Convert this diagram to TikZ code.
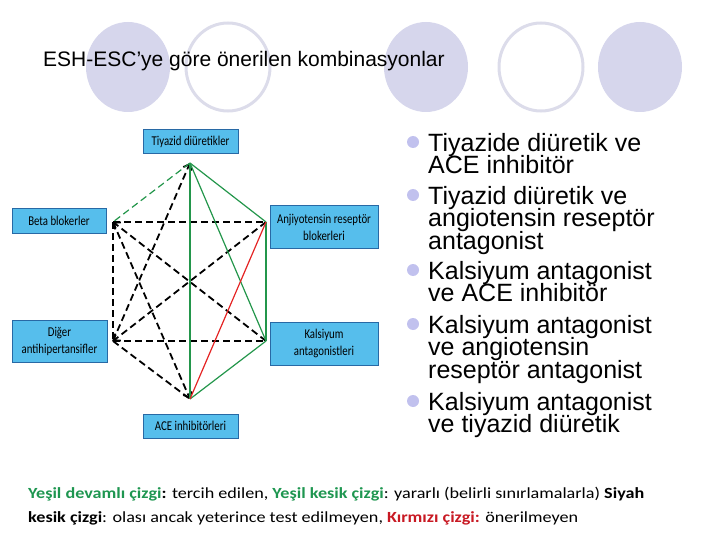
\documentclass[tikz,border=0pt]{standalone}
\usepackage{fontspec}
\setmainfont{Liberation Sans}
\newfontfamily\boxfont[FakeStretch=0.8]{Carlito}
\newfontfamily\legfont[FakeStretch=1.17]{Carlito}
\usetikzlibrary{arrows.meta}

\definecolor{boxblue}{RGB}{86,190,236}
\definecolor{boxline}{RGB}{40,105,165}
\definecolor{lgreen}{RGB}{35,150,75}
\definecolor{lred}{RGB}{228,35,35}
\definecolor{lavender}{RGB}{214,214,236}
\definecolor{ringgray}{RGB}{220,220,234}
\definecolor{txtgreen}{RGB}{30,150,80}
\definecolor{txtred}{RGB}{200,25,35}

\newcommand{\combfont}{\fontsize{25}{22.5}\selectfont\lineskiplimit=-100pt\relax}

\begin{document}
\begin{tikzpicture}[x=1pt, y=-1pt, node distance=1cm, auto, >={Straight Barb[length=5pt, width=9pt]}]
        \tikzstyle{drug}=[draw=boxline, line width=1pt, fill=boxblue, rectangle, inner sep=1pt, align=center, font=\boxfont\fontsize{13.5}{17}\selectfont];
        \tikzstyle{blk}=[black, line width=1.8pt, dash pattern=on 7pt off 4pt];
        \tikzstyle{grn}=[lgreen, line width=1.2pt];
        \tikzstyle{item}=[anchor=north west, inner sep=0pt, align=left, font=\combfont];
        \tikzstyle{dot}=[circle, fill=lavender!90!blue, minimum size=12pt, inner sep=0pt];
        \tikzstyle{legend}=[anchor=base west, inner sep=0pt, font=\legfont\fontsize{15.5}{18}\selectfont];

        \useasboundingbox (0,0) rectangle (720,540);

        % ovals behind the title
        \fill[lavender] (128,67) ellipse [x radius=42, y radius=45];
        \draw[ringgray, line width=3pt] (228,67) ellipse [x radius=42, y radius=44];
        \fill[lavender] (426,67) ellipse [x radius=42, y radius=45];
        \draw[ringgray, line width=3pt] (541,67) ellipse [x radius=42, y radius=44];
        \fill[lavender] (640,67) ellipse [x radius=42, y radius=45];

        \node[anchor=base west, inner sep=0pt, font=\fontsize{21}{25}\selectfont] (title) at (43,67) {ESH-ESC’ye göre önerilen kombinasyonlar};

        % drug classes
        \node[drug, minimum width=95pt, minimum height=24pt] (tiy) at (190.5,142) {Tiyazid diüretikler};
        \node[drug, minimum width=94pt, minimum height=24pt] (beta) at (59,221) {Beta blokerler};
        \node[drug, minimum width=108pt, minimum height=42pt] (arb) at (324,227) {Anjiyotensin reseptör\\blokerleri};
        \node[drug, minimum width=95pt, minimum height=42pt] (diger) at (59.5,341) {Diğer\\antihipertansifler};
        \node[drug, minimum width=108pt, minimum height=43pt] (kal) at (324,343.5) {Kalsiyum\\antagonistleri};
        \node[drug, minimum width=95pt, minimum height=24pt] (ace) at (190.5,426) {ACE inhibitörleri};

        \coordinate (vT) at (190,163);
        \coordinate (vB) at (113,222);
        \coordinate (vA) at (266,222);
        \coordinate (vD) at (113,341);
        \coordinate (vK) at (266,341);
        \coordinate (vE) at (190,399);

        \draw[blk] (vB) -- (vA);
        \draw[blk] (vD) -- (vK);
        \draw[blk] (vB) -- (vD);
        \draw[blk, ->] (vK) -- (vB);
        \draw[blk, ->] (vA) -- (vD);
        \draw[blk, ->] (vD) -- (vT);
        \draw[blk, ->] (vB) -- (vE);
        \draw[blk] (vD) -- (vE);
        \draw[grn, dash pattern=on 7pt off 4pt] (vT) -- (vB);
        \draw[grn] (vT) -- (vE);
        \draw[grn] (vT) -- (vA);
        \draw[grn] (vT) -- (vK);
        \draw[grn] (vA) -- (vK);
        \draw[grn] (vK) -- (vE);
        \draw[lred, line width=1.2pt] (vA) -- (vE);

        % combinations
        \node[item] (c1) at (428,133) {Tiyazide diüretik ve\\ACE inhibitör};
        \node[item] (c2) at (428,186) {Tiyazid diüretik ve\\angiotensin reseptör\\antagonist};
        \node[item] (c3) at (428,261) {Kalsiyum antagonist\\ve ACE inhibitör};
        \node[item] (c4) at (428,315) {Kalsiyum antagonist\\ve angiotensin\\reseptör antagonist};
        \node[item] (c5) at (428,392) {Kalsiyum antagonist\\ve tiyazid diüretik};
        \foreach \c in {c1,c2,c3,c4,c5}
            \node[dot] at ([xshift=-15pt, yshift=-9pt]\c.north west) {};

        \node[legend] (leg1) at (28,498) {\textbf{\color{txtgreen}Yeşil devamlı çizgi}\textbf{:} tercih edilen, \textbf{\color{txtgreen}Yeşil kesik çizgi}: yararlı (belirli sınırlamalarla) \textbf{Siyah}};
        \node[legend] (leg2) at (28,522) {\textbf{kesik çizgi}: olası ancak yeterince test edilmeyen, \textbf{\color{txtred}Kırmızı çizgi:} önerilmeyen};
    \end{tikzpicture}
\end{document}
